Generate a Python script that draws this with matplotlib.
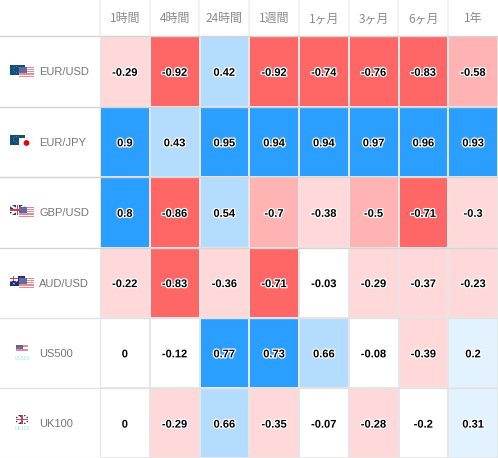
import matplotlib
matplotlib.use("Agg")
import matplotlib.pyplot as plt
from matplotlib.patches import Rectangle, Circle
import matplotlib.patheffects as pe

periods = ["1時間", "4時間", "24時間", "1週間", "1ヶ月", "3ヶ月", "6ヶ月", "1年"]
pairs = ["EUR/USD", "EUR/JPY", "GBP/USD", "AUD/USD", "US500", "UK100"]
eur_usd = [-0.29, -0.92, 0.42, -0.92, -0.74, -0.76, -0.83, -0.58]
eur_jpy = [0.9, 0.43, 0.95, 0.94, 0.94, 0.97, 0.96, 0.93]
gbp_usd = [0.8, -0.86, 0.54, -0.7, -0.38, -0.5, -0.71, -0.3]
aud_usd = [-0.22, -0.83, -0.36, -0.71, -0.03, -0.29, -0.37, -0.23]
us500 = [0, -0.12, 0.77, 0.73, 0.66, -0.08, -0.39, 0.2]
uk100 = [0, -0.29, 0.66, -0.35, -0.07, -0.28, -0.2, 0.31]
rows = [eur_usd, eur_jpy, gbp_usd, aud_usd, us500, uk100]

X0, CW = 100, 49.75
Y_EDGES = [36, 106.5, 177, 247.5, 317.5, 388, 458]
CJK = ["Noto Sans CJK JP", "DejaVu Sans"]
SANS = "Liberation Sans"


def fill(v):
    if v < -0.7:
        return "#ff6666"
    if v < -0.4:
        return "#ffb3b3"
    if v < -0.2:
        return "#ffd9d9"
    if v < 0.2:
        return "#ffffff"
    if v < 0.4:
        return "#e3f2ff"
    if v < 0.7:
        return "#b3dcff"
    return "#2b9fff"


fig = plt.figure(figsize=(4.98, 4.58), dpi=100)
ax = fig.add_axes([0, 0, 1, 1])
ax.set_xlim(0, 498)
ax.set_ylim(458, 0)
ax.axis("off")


def rect(x, y, w, h, c, z=2, a=1.0):
    ax.add_patch(Rectangle((x, y), w, h, fc=c, ec="none", alpha=a, zorder=z))


def eu(x, y):
    rect(x, y, 15, 10, "#0f4f80", 3)
    ax.add_patch(Circle((x + 6.5, y + 4.5), 3, fc="none", ec="#a8a040", lw=0.5, ls=":", zorder=3.1))


def uk(x, y, w=15, h=10, z=3):
    rect(x, y, w, h, "#2a3a80", z)
    ax.plot([x, x + w], [y, y + h], color="#ffffff", lw=1.6, zorder=z + .1, solid_capstyle="butt")
    ax.plot([x, x + w], [y + h, y], color="#ffffff", lw=1.6, zorder=z + .1, solid_capstyle="butt")
    rect(x + w / 2 - 1.5, y, 3, h, "#ffffff", z + .2)
    rect(x, y + h / 2 - 1.5, w, 3, "#ffffff", z + .2)
    rect(x + w / 2 - .7, y, 1.4, h, "#d04050", z + .3)
    rect(x, y + h / 2 - .7, w, 1.4, "#d04050", z + .3)


def aus(x, y):
    rect(x, y, 15, 10, "#1c2f80", 3)
    uk(x, y, 7.5, 5, 3.1)
    for dx, dy in [(4, 7.5), (11, 2.5), (13, 5), (10, 7)]:
        ax.add_patch(Circle((x + dx, y + dy), .7, fc="#ffffff", ec="none", zorder=3.5))


def us(x, y, w=15, h=11, z=4):
    rect(x, y, w, h, "#ffffff", z)
    n = 6
    for i in range(n):
        rect(x, y + i * h / n, w, h / n * .55, "#e88a94", z + .1)
    rect(x, y, w * .55, h * .55, "#5a5f98", z + .2, .9)


def jp(x, y):
    rect(x, y, 15, 10, "#f4f4f4", 4)
    rect(x + .5, y + .5, 14, 9, "#ffffff", 4.1)
    ax.add_patch(Circle((x + 7.5, y + 5), 2.9, fc="#e60012", ec="none", zorder=4.2))


rect(0, 0, 498, 458, "#ffffff", 0)

# header
for j, p in enumerate(periods):
    x = X0 + j * CW
    ax.text(x + CW / 2, 18.7, p, ha="center", va="center", fontsize=8.6,
            family=CJK, color="#8a8a8a", zorder=6)
    ax.plot([x - .2, x - .2], [0, 36], color="#f0f0f0", lw=1.2, zorder=1)

# cells
for i, vals in enumerate(rows):
    top, bot = Y_EDGES[i], Y_EDGES[i + 1]
    for j, v in enumerate(vals):
        x = X0 + j * CW
        c = fill(v)
        rect(x, top, CW, bot - top, "#e6e6e6", 1)
        rect(x + 1, top + 1, CW - 2, bot - top - 2, c, 2)
        ax.text(x + CW / 2, (top + bot) / 2 + 1.6, f"{v:g}", ha="center", va="center",
                fontsize=8, fontweight="bold", family=SANS, color="#000000", zorder=6,
                path_effects=[pe.withStroke(linewidth=1.8, foreground="#ffffff")])
    ax.text(39, (top + bot) / 2 + 1.2, pairs[i], ha="left", va="center", fontsize=8,
            family=SANS, color="#777777", zorder=6)

# row separators
for k, y in enumerate(Y_EDGES[:-1]):
    col = "#d4d4d4" if k < 4 else "#e2e2e2"
    ax.plot([0, 498], [y, y], color=col, lw=1.0, zorder=5)
ax.plot([0, 498], [458, 458], color="#e6e6e6", lw=1, zorder=5)

# flags
eu(10, 65); us(19, 67)
eu(10, 135); jp(19, 138)
uk(10, 205); us(19, 207)
aus(10, 276); us(19, 278)
us(16, 345, 12, 8)
ax.text(22, 358, "US500", ha="center", va="center", fontsize=3.6, color="#9fe0f5", family=SANS, zorder=6)
uk(16, 415, 12, 9)
ax.text(22, 428, "UK100", ha="center", va="center", fontsize=3.6, color="#9fe0f5", family=SANS, zorder=6)

fig.savefig("out.png", dpi=100)
